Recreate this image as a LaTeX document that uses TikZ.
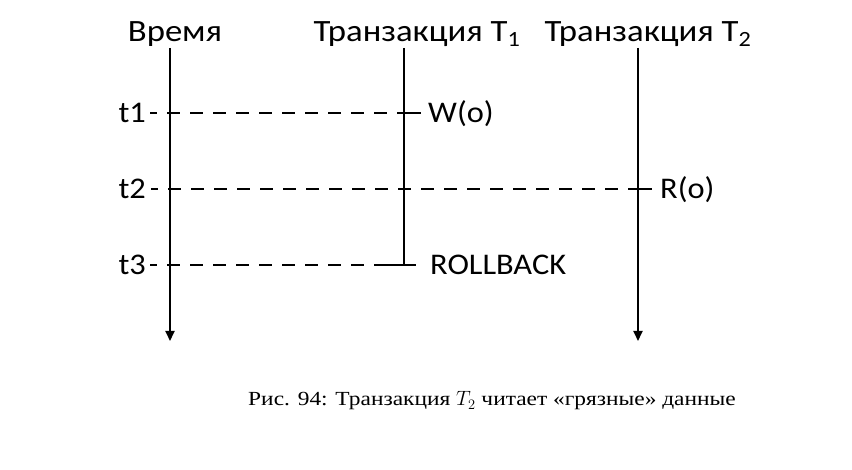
\documentclass[tikz,border=0pt]{standalone}
\usepackage{fontspec}
\setmainfont[FakeStretch=1.17]{Liberation Serif}
\newfontfamily\hdrfont[FakeStretch=1.12]{Carlito}
\newfontfamily\lblfont[FakeStretch=1.08]{Carlito}
\usetikzlibrary{positioning}
\usetikzlibrary{arrows.meta}
\tikzset{
    hdr/.style={font=\hdrfont\fontsize{31}{35}\selectfont, inner sep=0pt},
    lbl/.style={font=\lblfont\fontsize{30}{34}\selectfont, inner sep=0pt,
        text height=19.3pt, text depth=0pt},
    timeline/.style={line width=1.8pt},
    moment/.style={line width=1.6pt, dash pattern=on 13pt off 10pt, dash phase=6pt},
}

\begin{document}
\begin{tikzpicture}[x=1pt, y=-1pt]
    \useasboundingbox (0,0) rectangle (852,470);

    % Column headers
    \node[hdr] (time) at (175,34) {Время};
    \node[hdr] (tA) at (417,34) {Транзакция T\textsubscript{1}};
    \node[hdr] (tB) at (648,34) {Транзакция T\textsubscript{2}};

    % Axes
    \coordinate (timeTop) at (170,48);
    \coordinate (timeEnd) at (170,341);
    \coordinate (tATop) at (404,48);
    \coordinate (tAEnd) at (404,266);
    \coordinate (tBTop) at (638,48);
    \coordinate (tBEnd) at (638,341);
    \draw[timeline, -{Triangle[length=10pt, width=9pt]}] (timeTop) -- (timeEnd);
    \draw[timeline] (tATop) -- (tAEnd);
    \draw[timeline, -{Triangle[length=10pt, width=9pt]}] (tBTop) -- (tBEnd);

    % Moments of time
    \node[lbl, anchor=east] (t1) at (146,113) {t1};
    \node[lbl, anchor=east] (t2) at (146,189) {t2};
    \node[lbl, anchor=east] (t3) at (146,265) {t3};

    % Operations
    \node[lbl, anchor=west] (write) at (428,113) {W(o)};
    \node[lbl, anchor=west] (read) at (660,189) {R(o)};
    \node[lbl, anchor=west] (undo) at (430,265) {ROLLBACK};

    \coordinate (writeX) at (t1 -| tATop);
    \coordinate (readX) at (t2 -| tBTop);
    \coordinate (undoL) at (386,265);
    \draw[moment] ([xshift=4pt]t1.east) -- (writeX);
    \draw[timeline] (writeX) -- ([xshift=-7pt]write.west);
    \draw[moment] ([xshift=5pt]t2.east) -- (readX);
    \draw[timeline] (readX) -- ([xshift=-8pt]read.west);
    \draw[moment] ([xshift=4pt]t3.east) -- (undoL);
    \draw[timeline] (undoL) -- ([xshift=-14pt]undo.west);

    % Caption
    \node[anchor=base, font=\fontsize{20}{24}\selectfont, inner sep=0pt] (caption) at (492,406)
        {Рис. 94: Транзакция $T_2$ читает «грязные» данные};
\end{tikzpicture}
\end{document}
